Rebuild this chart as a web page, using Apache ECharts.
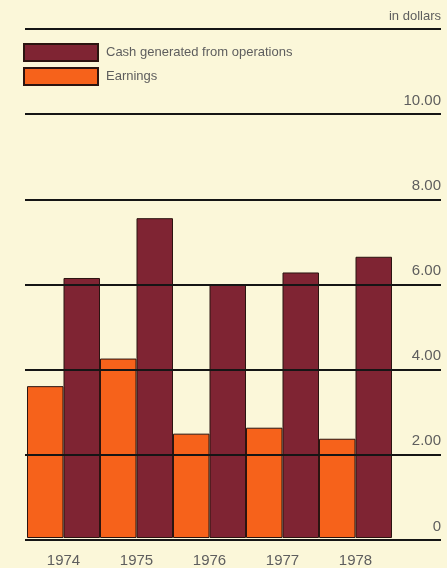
<!DOCTYPE html>
<html>
<head>
<meta charset="utf-8">
<script src="https://cdn.jsdelivr.net/npm/echarts@6/dist/echarts.min.js"></script>
<style>
  html, body { margin: 0; padding: 0; background: #fbf7d9; }
  #chart { width: 447px; height: 568px; }
</style>
</head>
<body>
<div id="chart"></div>
<script>
// Per-share figures, in dollars
const years = ['1974', '1975', '1976', '1977', '1978'];
const earnings = [3.58, 4.23, 2.46, 2.60, 2.34];
const cashFromOperations = [6.13, 7.54, 5.98, 6.26, 6.63];
const tickValues = [0, 2, 4, 6, 8, 10, 12];
const tickLabels = ['0', '2.00', '4.00', '6.00', '8.00', '10.00', 'in dollars'];

const ORANGE = '#f6621b';
const MAROON = '#7f2433';
const INK = '#5e5e5e';
const FONT = 'Liberation Sans, Arial, sans-serif';

const chart = echarts.init(document.getElementById('chart'), null, { renderer: 'canvas' });

const yMax = tickValues[tickValues.length - 1];
const step = tickValues[1] - tickValues[0];

chart.setOption({
  backgroundColor: '#fbf7d9',
  animation: false,
  textStyle: { fontFamily: FONT },
  legend: {
    orient: 'vertical',
    left: 23,
    top: 43,
    padding: 0,
    itemWidth: 74,
    itemHeight: 17,
    itemGap: 5,
    icon: 'rect',
    data: ['Cash generated from operations', 'Earnings'],
    textStyle: { color: INK, fontSize: 13, fontFamily: FONT, padding: [0, 0, 0, 3] }
  },
  grid: [
    // bars
    { left: 27, width: 365, top: 29, bottom: 28 },
    // rules and value labels spanning the full width
    { left: 25, right: 6, top: 29, bottom: 28 }
  ],
  xAxis: [
    {
      type: 'category',
      gridIndex: 0,
      data: years,
      axisLine: { show: false },
      axisTick: { show: false },
      axisLabel: { color: INK, fontSize: 15, margin: 15, fontFamily: FONT }
    },
    { type: 'value', gridIndex: 1, show: false, min: 0, max: 1 }
  ],
  yAxis: [
    { type: 'value', gridIndex: 0, min: 0, max: yMax, interval: step, show: false },
    {
      type: 'value',
      gridIndex: 1,
      position: 'right',
      min: 0,
      max: yMax,
      interval: step,
      z: 10,
      axisLine: { show: false },
      axisTick: { show: false },
      splitLine: { show: true, lineStyle: { color: '#151515', width: 2 } },
      axisLabel: {
        inside: true,
        margin: 0,
        verticalAlign: 'bottom',
        padding: [0, 0, 6, 0],
        color: INK,
        fontFamily: FONT,
        fontSize: 15,
        formatter: function (v) {
          const i = tickValues.indexOf(v);
          if (i < 0) return '';
          return v === yMax ? '{unit|' + tickLabels[i] + '}' : tickLabels[i];
        },
        rich: {
          unit: { fontSize: 13, color: INK, fontFamily: FONT }
        }
      }
    }
  ],
  series: [
    {
      name: 'Earnings',
      type: 'bar',
      xAxisIndex: 0,
      yAxisIndex: 0,
      data: earnings,
      barGap: '0%',
      barCategoryGap: '0%',
      itemStyle: { color: ORANGE, borderColor: '#2b1410', borderWidth: 1 }
    },
    {
      name: 'Cash generated from operations',
      type: 'bar',
      xAxisIndex: 0,
      yAxisIndex: 0,
      data: cashFromOperations,
      barGap: '0%',
      barCategoryGap: '0%',
      itemStyle: { color: MAROON, borderColor: '#2b1410', borderWidth: 1 }
    }
  ]
});
</script>
</body>
</html>
